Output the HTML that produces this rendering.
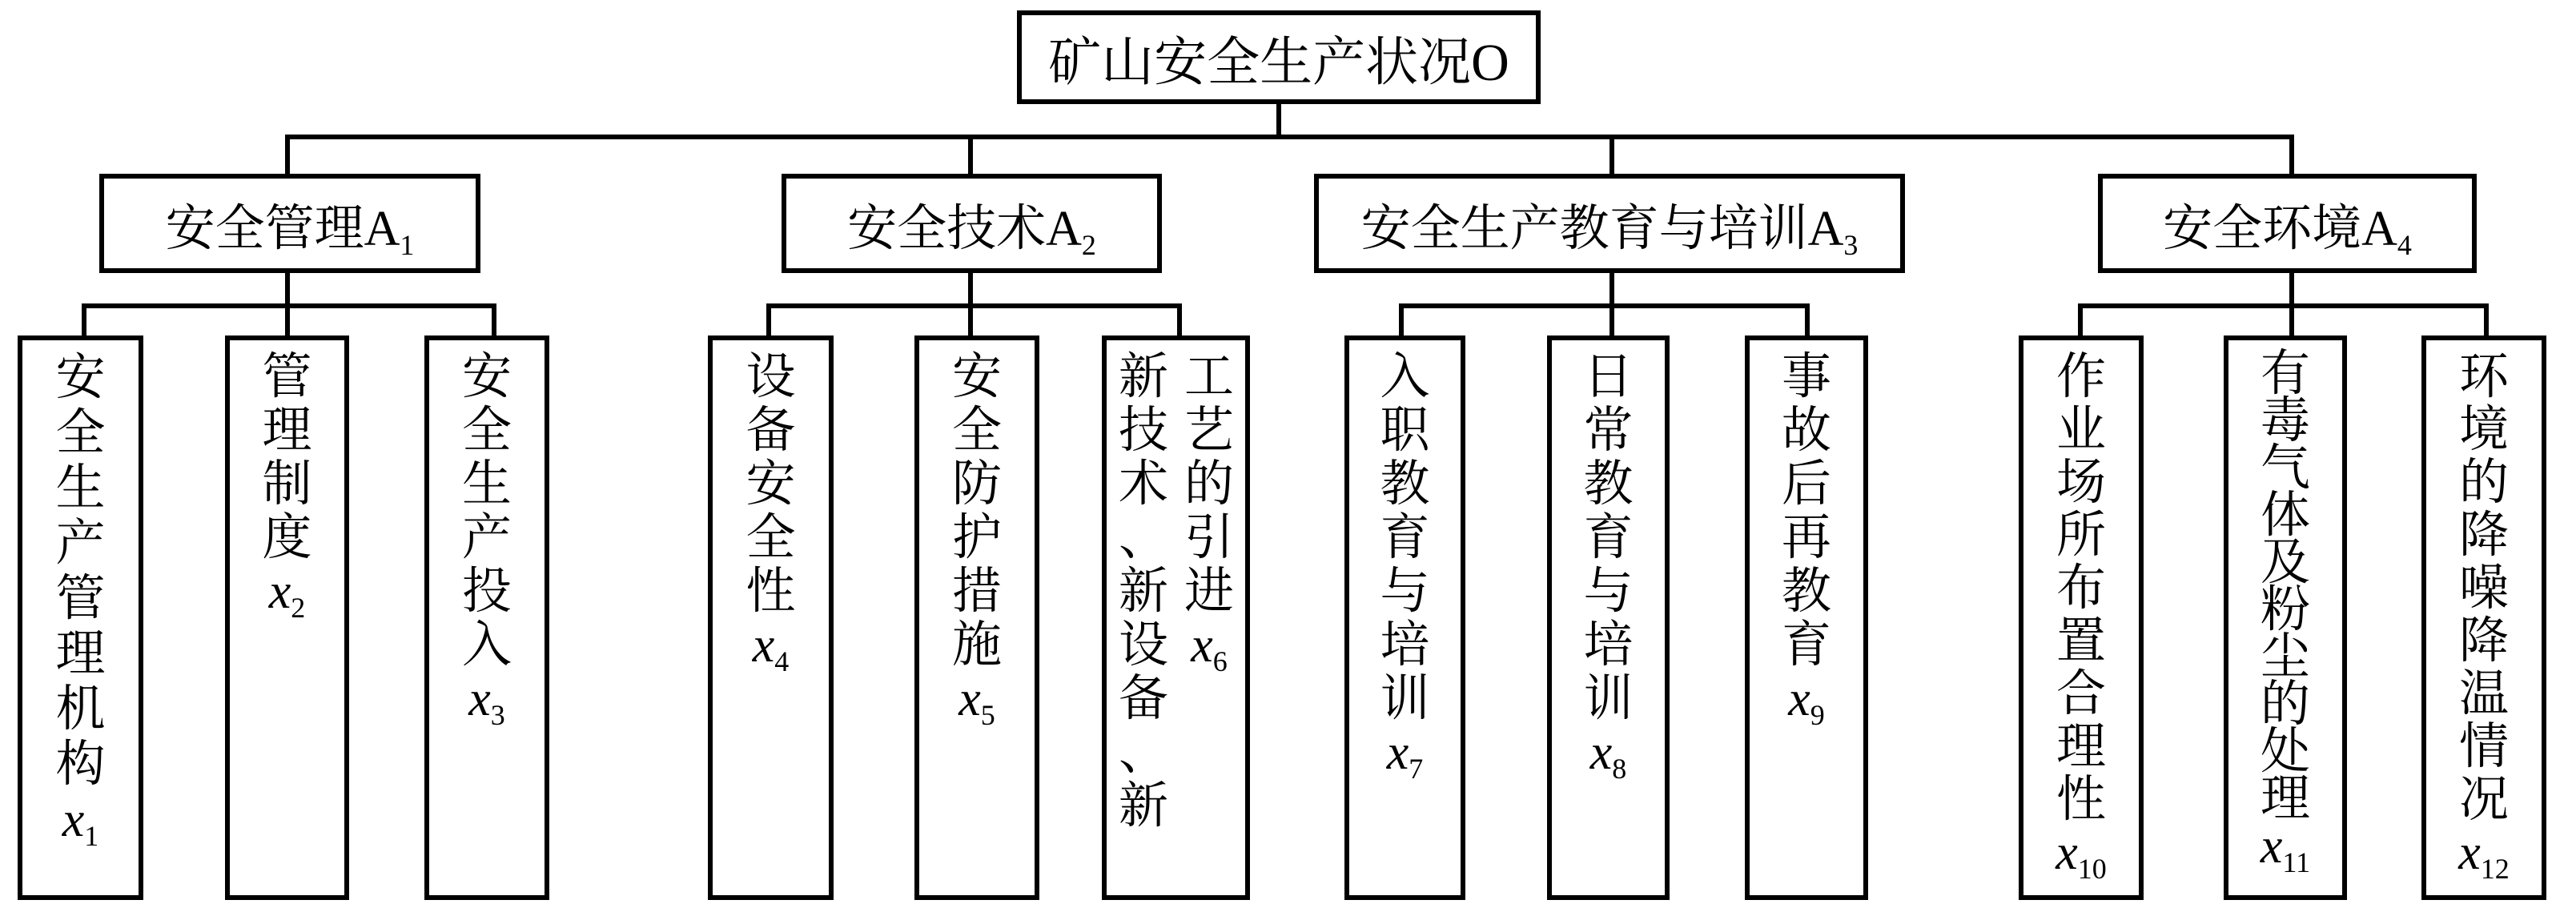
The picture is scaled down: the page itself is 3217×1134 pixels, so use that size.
<!DOCTYPE html>
<html><head><meta charset="utf-8"><style>
html,body{margin:0;padding:0;background:#fff;}
body{width:3217px;height:1134px;position:relative;overflow:hidden;font-family:"Liberation Serif","Noto Serif CJK SC",serif;color:#000;}
.b{position:absolute;box-sizing:border-box;border:6px solid #000;background:#fff;}
.h{position:absolute;background:#000;height:6px;}
.v{position:absolute;background:#000;width:6px;}
.t{position:absolute;display:flex;align-items:center;justify-content:center;font-size:62px;white-space:nowrap;}
.c{position:absolute;text-align:center;font-size:62px;line-height:67px;}
sub{font-size:36px;vertical-align:-12px;line-height:0;}
i{font-style:italic;font-family:"Liberation Serif",serif;}
.x sub{font-style:normal;}
</style></head><body>
<!-- root -->
<div class="b" style="left:1270px;top:13px;width:654px;height:117px;"></div>
<div class="t" style="left:1270px;top:13px;width:654px;height:117px;font-size:66px;"><span>矿山安全生产状况O</span></div>
<div class="v" style="left:1594px;top:128px;height:46px;"></div>
<div class="h" style="left:356px;top:168px;width:2509px;"></div>
<div class="v" style="left:356px;top:168px;height:50px;"></div>
<div class="v" style="left:1209px;top:168px;height:50px;"></div>
<div class="v" style="left:2010px;top:168px;height:50px;"></div>
<div class="v" style="left:2859px;top:168px;height:50px;"></div>
<!-- level 2 -->
<div class="b" style="left:124px;top:217px;width:476px;height:124px;"></div>
<div class="t" style="left:124px;top:217px;width:476px;height:124px;"><span>安全管理A<sub>1</sub></span></div>
<div class="b" style="left:976px;top:217px;width:475px;height:124px;"></div>
<div class="t" style="left:976px;top:217px;width:475px;height:124px;"><span>安全技术A<sub>2</sub></span></div>
<div class="b" style="left:1641px;top:217px;width:738px;height:124px;"></div>
<div class="t" style="left:1641px;top:217px;width:738px;height:124px;"><span>安全生产教育与培训A<sub>3</sub></span></div>
<div class="b" style="left:2620px;top:217px;width:473px;height:124px;"></div>
<div class="t" style="left:2620px;top:217px;width:473px;height:124px;"><span>安全环境A<sub>4</sub></span></div>
<!-- sub buses -->
<div class="v" style="left:356px;top:339px;height:46px;"></div>
<div class="h" style="left:102px;top:379px;width:518px;"></div>
<div class="v" style="left:102px;top:379px;height:42px;"></div>
<div class="v" style="left:356px;top:379px;height:42px;"></div>
<div class="v" style="left:614px;top:379px;height:42px;"></div>

<div class="v" style="left:1209px;top:339px;height:46px;"></div>
<div class="h" style="left:957px;top:379px;width:519px;"></div>
<div class="v" style="left:957px;top:379px;height:42px;"></div>
<div class="v" style="left:1209px;top:379px;height:42px;"></div>
<div class="v" style="left:1470px;top:379px;height:42px;"></div>

<div class="v" style="left:2010px;top:339px;height:46px;"></div>
<div class="h" style="left:1747px;top:379px;width:513px;"></div>
<div class="v" style="left:1747px;top:379px;height:42px;"></div>
<div class="v" style="left:2010px;top:379px;height:42px;"></div>
<div class="v" style="left:2254px;top:379px;height:42px;"></div>

<div class="v" style="left:2859px;top:339px;height:46px;"></div>
<div class="h" style="left:2595px;top:379px;width:513px;"></div>
<div class="v" style="left:2595px;top:379px;height:42px;"></div>
<div class="v" style="left:2859px;top:379px;height:42px;"></div>
<div class="v" style="left:3102px;top:379px;height:42px;"></div>
<!-- leaves -->
<div class="b" style="left:22px;top:419px;width:157px;height:705px;"></div>
<div class="c" style="left:22px;top:438px;width:157px;line-height:69px;">安<br>全<br>生<br>产<br>管<br>理<br>机<br>构<br><span class="x"><i>x</i><sub>1</sub></span></div>
<div class="b" style="left:281px;top:419px;width:155px;height:705px;"></div>
<div class="c" style="left:281px;top:438px;width:155px;">管<br>理<br>制<br>度<br><span class="x"><i>x</i><sub>2</sub></span></div>
<div class="b" style="left:530px;top:419px;width:156px;height:705px;"></div>
<div class="c" style="left:530px;top:438px;width:156px;">安<br>全<br>生<br>产<br>投<br>入<br><span class="x"><i>x</i><sub>3</sub></span></div>

<div class="b" style="left:884px;top:419px;width:157px;height:705px;"></div>
<div class="c" style="left:884px;top:438px;width:157px;">设<br>备<br>安<br>全<br>性<br><span class="x"><i>x</i><sub>4</sub></span></div>
<div class="b" style="left:1142px;top:419px;width:156px;height:705px;"></div>
<div class="c" style="left:1142px;top:438px;width:156px;">安<br>全<br>防<br>护<br>措<br>施<br><span class="x"><i>x</i><sub>5</sub></span></div>
<div class="b" style="left:1376px;top:419px;width:185px;height:705px;"></div>
<div class="c" style="left:1395px;top:438px;width:66px;">新<br>技<br>术<br>、<br>新<br>设<br>备<br>、<br>新</div>
<div class="c" style="left:1477px;top:438px;width:66px;">工<br>艺<br>的<br>引<br>进<br><span class="x"><i>x</i><sub>6</sub></span></div>

<div class="b" style="left:1679px;top:419px;width:151px;height:705px;"></div>
<div class="c" style="left:1679px;top:438px;width:151px;">入<br>职<br>教<br>育<br>与<br>培<br>训<br><span class="x"><i>x</i><sub>7</sub></span></div>
<div class="b" style="left:1932px;top:419px;width:153px;height:705px;"></div>
<div class="c" style="left:1932px;top:438px;width:153px;">日<br>常<br>教<br>育<br>与<br>培<br>训<br><span class="x"><i>x</i><sub>8</sub></span></div>
<div class="b" style="left:2179px;top:419px;width:154px;height:705px;"></div>
<div class="c" style="left:2179px;top:438px;width:154px;">事<br>故<br>后<br>再<br>教<br>育<br><span class="x"><i>x</i><sub>9</sub></span></div>

<div class="b" style="left:2521px;top:419px;width:156px;height:705px;"></div>
<div class="c" style="left:2521px;top:438px;width:156px;line-height:66px;">作<br>业<br>场<br>所<br>布<br>置<br>合<br>理<br>性<br><span class="x"><i>x</i><sub>10</sub></span></div>
<div class="b" style="left:2777px;top:419px;width:154px;height:705px;"></div>
<div class="c" style="left:2777px;top:438px;width:154px;line-height:59px;">有<br>毒<br>气<br>体<br>及<br>粉<br>尘<br>的<br>处<br>理<br><span class="x"><i>x</i><sub>11</sub></span></div>
<div class="b" style="left:3024px;top:419px;width:156px;height:705px;"></div>
<div class="c" style="left:3024px;top:438px;width:156px;line-height:66px;">环<br>境<br>的<br>降<br>噪<br>降<br>温<br>情<br>况<br><span class="x"><i>x</i><sub>12</sub></span></div>
</body></html>
